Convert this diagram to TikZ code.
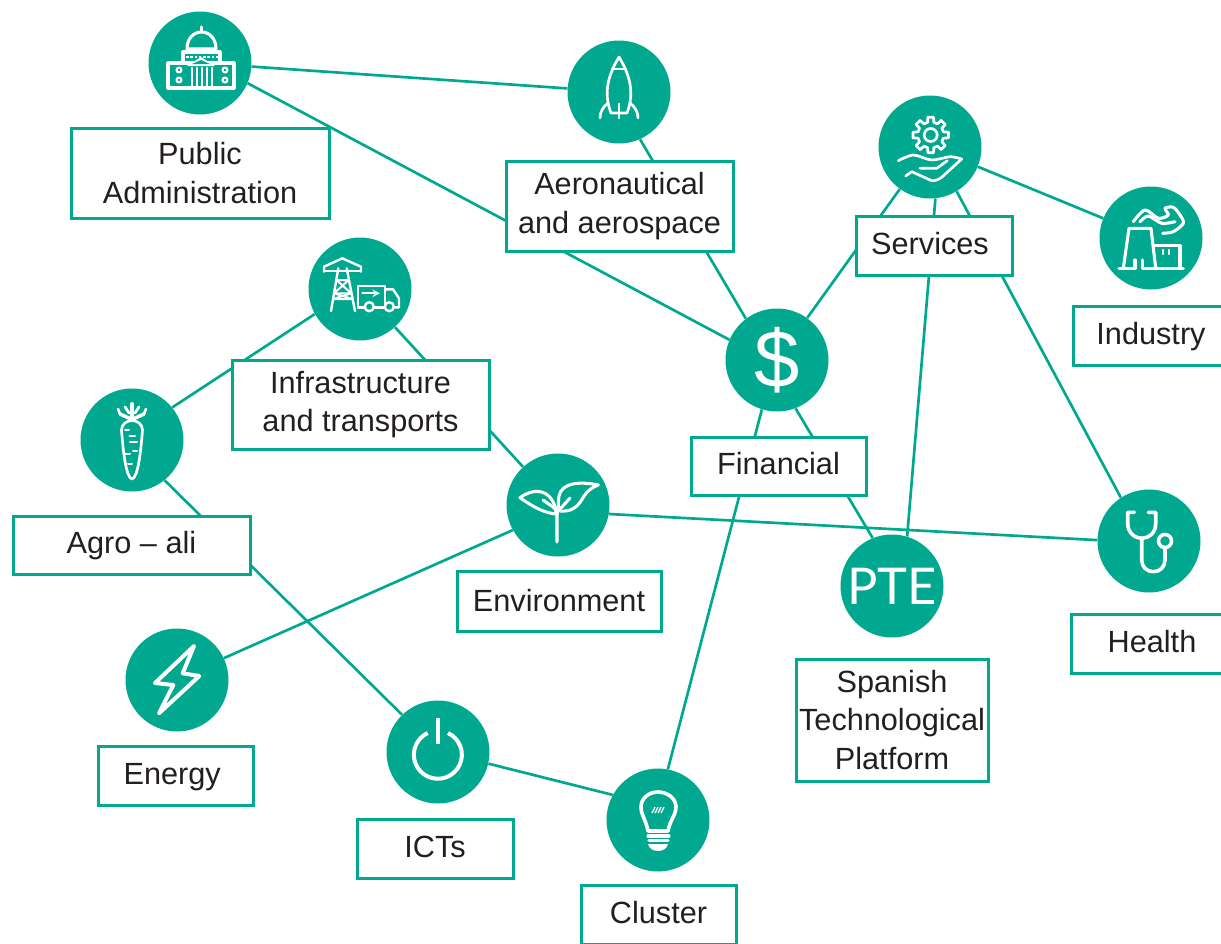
\documentclass[tikz,border=0pt]{standalone}
\usepackage{fontspec}
\usepackage{tikz}
\usetikzlibrary{backgrounds}
\setmainfont{Liberation Sans}
\newfontfamily\ptefont{Lato}
\definecolor{tealgreen}{RGB}{0,168,143}
\definecolor{labelgray}{RGB}{35,31,32}
\tikzset{
  sector/.style={circle,fill=tealgreen,inner sep=0pt,minimum size=77.25pt,text=white},
  labelbox/.style={draw=tealgreen,line width=2.25pt,fill=white,inner sep=0pt,align=center,
    text=labelgray,font=\fontsize{23}{29}\selectfont},
  oneline/.style={labelbox,text height=16.7pt,text depth=3.3pt},
  link/.style={draw=tealgreen,line width=2pt},
  icon/.style={draw=white,line width=2.3pt,line cap=round,line join=round},
}
\begin{document}
\begin{tikzpicture}[x=0.75pt,y=0.75pt,yscale=-1,xscale=1]
    \useasboundingbox (0,0) rectangle (1221,943);
    %Shape: Circle
    \node [sector] (pubc) at (200,63) {};
    \node [sector] (aerc) at (619,92) {};
    \node [sector] (srvc) at (930,147) {};
    \node [sector] (indc) at (1151,238) {};
    \node [sector] (infc) at (360,289) {};
    \node [sector,font=\fontsize{61}{64}\selectfont] (finc) at (777,360) {\$};
    \node [sector] (agrc) at (132,440) {};
    \node [sector] (envc) at (558,505) {};
    \node [sector] (heac) at (1149,541) {};
    \node [sector,font=\ptefont\fontsize{38}{40}\selectfont] (ptec) at (892,586) {PTE};
    \node [sector] (enec) at (177,680) {};
    \node [sector] (ictc) at (438,752) {};
    \node [sector] (cluc) at (658,820) {};

    % Text Node
    \node [labelbox,minimum width=193.5pt,minimum height=67.5pt] (publ) at (200,173) {Public\\Administration};
    \node [labelbox,minimum width=170.25pt,minimum height=67.5pt] (aerl) at (619.5,206) {Aeronautical\\and aerospace};
    \node [oneline,minimum width=117pt,minimum height=44.25pt] (srvl) at (934,245.5) {\hspace{-6pt}Services};
    \node [oneline,minimum width=117pt,minimum height=44.25pt] (indl) at (1151,335.5) {Industry};
    \node [labelbox,minimum width=192.75pt,minimum height=66.75pt] (infl) at (360.5,404.5) {Infrastructure\\and transports};
    \node [oneline,minimum width=131.25pt,minimum height=43.5pt] (finl) at (778.5,466) {Financial};
    \node [oneline,minimum width=177.75pt,minimum height=43.5pt] (agrl) at (131.5,545) {Agro -- ali};
    \node [oneline,text depth=1.3pt,minimum width=153pt,minimum height=45pt] (envl) at (559,601) {Environment};
    \node [oneline,minimum width=121.5pt,minimum height=44.25pt] (heal) at (1152,643.5) {Health};
    \node [labelbox,minimum width=144pt,minimum height=91.5pt] (ptel) at (892,720) {Spanish\\Technological\\Platform};
    \node [oneline,minimum width=116.25pt,minimum height=44.25pt] (enel) at (175.5,775.5) {\hspace{-5pt}Energy};
    \node [oneline,minimum width=117pt,minimum height=44.25pt] (ictl) at (435,848.5) {ICTs};
    \node [oneline,minimum width=116.25pt,minimum height=44.25pt] (clul) at (658.5,915) {Cluster};

    %Straight Lines
    \begin{scope}[on background layer]
    \draw [link] (pubc) -- (aerc);
    \draw [link] (pubc.-23) -- (finc.157);
    \draw [link] (aerc.-66.5) -- (finc.127);
    \draw [link] (srvc) -- (finc);
    \draw [link] (srvc) -- (indc);
    \draw [link] (srvc.-84) -- (ptec.73);
    \draw [link] (srvc.-59) -- (heac.123);
    \draw [link] (finc.-69) -- (ptec.112);
    \draw [link] (finc.253) -- (cluc.79);
    \draw [link] (infc.209.6) -- (agrc.39.5);
    \draw [link] (infc) -- (envc);
    \draw [link] (agrc.-51) -- (ictc.134);
    \draw [link] (envc.-10) -- (heac.179);
    \draw [link] (envc.209) -- (enec.25);
    \draw [link] (ictc.-13.5) -- (cluc.151);
    \end{scope}

    %Icon: capitol
    \begin{scope}[shift={(pubc)}]
    \draw [icon] (-32,0) rectangle (34,25);
    \fill [white] (-13,3) -- (1,-6) -- (15,3) -- cycle;
    \fill [tealgreen] (-8,1) -- (1,-3) -- (10,1) -- cycle;
    \foreach \x in {-8,-3,2,7,12} {\draw [icon,line width=1.6pt] (\x,5) -- (\x,25);}
    \draw [icon] (-17,0) -- (-17,-11) -- (20,-11) -- (20,0);
    \draw [draw=white,line width=2pt,dash pattern=on 2pt off 1.2pt] (-14,-6) -- (18,-6);
    \draw [icon] (-13,-14) .. controls (-13,-25) and (-6,-31) .. (1.5,-31) .. controls (9,-31) and (16,-25) .. (16,-14) -- cycle;
    \draw [icon] (1.5,-31) -- (1.5,-36);
    \foreach \x in {-21,25} {
      \draw [icon,line width=1.6pt] (\x,7) circle (2.5);
      \draw [icon,line width=1.6pt] (\x,17) circle (2.5);
    }
    \end{scope}

    %Icon: rocket
    \begin{scope}[shift={(aerc)}]
    \draw [icon,line width=2pt] (-8,21) .. controls (-14,5) and (-14,-12) .. (0,-35) .. controls (14,-12) and (14,5) .. (8,21) -- cycle;
    \draw [icon,line width=2pt] (-7,-23) -- (7,-23);
    \draw [icon,line width=2pt] (0,12) -- (0,26);
    \draw [icon,line width=2pt] (-11,11) .. controls (-16,15) and (-19,20) .. (-19,26);
    \draw [icon,line width=2pt] (11,11) .. controls (16,15) and (19,20) .. (19,26);
    \end{scope}

    %Icon: gear and hand
    \begin{scope}[shift={(srvc)}]
    \draw [icon,line width=2pt] (0.7,-12) circle (6.5);
    \foreach \a in {0,45,...,315} {
      \draw [icon,line width=2pt] ([shift={(0.7,-12)}]\a-9:18) -- ([shift={(0.7,-12)}]\a+9:18) -- ([shift={(0.7,-12)}]\a+14:13) -- ([shift={(0.7,-12)}]\a+31:13) -- ([shift={(0.7,-12)}]\a+36:18);
    }
    \draw [icon,line width=2pt] plot [smooth,tension=0.5] coordinates {(-31.7,13.7) (-16.7,8) (1.7,13) (20,9.7) (31.7,12)};
    \draw [icon,line width=2pt] (31.7,12) -- (11.7,30.3) .. controls (8,33) and (4,34) .. (1.7,33.7) -- (-18.3,24.7) -- (-24.3,29);
    \draw [icon,line width=2pt] (-10,21.3) -- (6.7,21.3) -- (17.3,13.7);
    \end{scope}

    %Icon: factory
    \begin{scope}[shift={(indc)}]
    \draw [icon] (-32,30.3) -- (-16,30.3) -- (-16,22);
    \draw [icon] (-8.7,22) -- (-8.7,30.3) -- (32.3,30.3);
    \draw [icon] (-27.7,30.3) -- (-22,-9.7) -- (0,-9.7) -- (4.7,30.3);
    \draw [icon] (2.7,7.7) -- (29,7.7) -- (29,30.3);
    \draw [icon,line width=1.6pt] (12.3,12) -- (12.3,16);
    \draw [icon,line width=1.6pt] (18.3,12) -- (18.3,16);
    \draw [icon] plot [smooth] coordinates {(-17.7,-16.3) (-6,-28) (7.3,-19.7) (17.3,-23) (14,-29.7) (22.3,-30.7) (29,-23) (32.3,-14.7) (22.3,-6.3) (11.7,-4.7)};
    \draw [icon] plot [smooth] coordinates {(-11,-16.3) (-2.7,-22) (10.7,-14.7) (24,-16.3)};
    \end{scope}

    %Icon: pylon and truck
    \begin{scope}[shift={(infc)}]
    \draw [icon,line width=1.8pt] (-36,-17.3) -- (-36,-22.3) -- (-17.7,-30.7) -- (1,-22.3) -- (1,-17.3);
    \draw [icon,line width=1.8pt] (-36,-18) -- (1,-18);
    \draw [icon,line width=1.8pt] (-21.7,-20.7) -- (-29,22);
    \draw [icon,line width=1.8pt] (-13.3,-20.7) -- (-5,22);
    \draw [icon,line width=1.5pt] (-23.7,-9) -- (-8.7,4.3) -- (-26,4.3) -- (-11.3,-9) -- cycle;
    \draw [icon,line width=1.5pt] (-26,4.3) -- (-7.5,10) -- (-27,10) -- (-8.7,4.3);
    \draw [icon,line width=1.8pt] (5,18.3) -- (-2.3,18.3) -- (-2.3,-3) -- (25,-3) -- (25,18.3) -- (14,18.3);
    \draw [icon,line width=1.5pt,->,>=stealth] (2.3,4.3) -- (20,4.3);
    \draw [icon,line width=1.8pt] (25,0.3) -- (33,0.3) -- (39,9.3) -- (39,18.3) -- (34,18.3);
    \draw [icon,line width=1.8pt] (9.3,17.7) circle (4.5) (29.3,17.7) circle (4.5);
    \end{scope}

    %Icon: carrot
    \begin{scope}[shift={(agrc)}]
    \draw [icon,line width=2pt] (0,39) .. controls (-6,38) and (-9,10) .. (-10.5,-10) .. controls (-10.5,-16) and (-5,-19.5) .. (0,-19.5) .. controls (5,-19.5) and (10.5,-16) .. (10.5,-10) .. controls (9,10) and (6,38) .. (0,39) -- cycle;
    \draw [icon,line width=3pt] (0,-21) -- (0,-36);
    \draw [icon,line width=2.6pt] (-1,-21) -- (-12,-26) (1,-21) -- (12,-26);
    \draw [icon,line width=2pt] (-3,-27) -- (-7,-33) (3,-27) -- (7,-33);
    \draw [icon,line width=2pt] (-12,-26) -- (-14,-31) (12,-26) -- (14,-31);
    \draw [icon,line width=1.5pt] (-7,-10) -- (-3,-10) (-2.5,-4) -- (3,-4) (-2,2) -- (5,2) (-7,14) -- (-2,14) (1,11) -- (5,11) (-4,24) -- (0,24);
    \end{scope}

    %Icon: sprout
    \begin{scope}[shift={(envc)}]
    \draw [icon] (-1,37) -- (-1,10) .. controls (-1,5) and (-3,4) .. (-5,2) -- (-15,-5);
    \draw [icon] (-1,10) .. controls (-1,5) and (2,4) .. (4,2) -- (12,-7);
    \draw [icon] (-38,-7.3) .. controls (-25,-17) and (-12,-15) .. (-6,-5) .. controls (-2,1) and (-2,6) .. (-2,9) .. controls (-12,8) and (-22,4) .. (-38,-7.3) -- cycle;
    \draw [icon] (40.3,-20) .. controls (20,-24) and (4,-22) .. (1,-9) .. controls (0,-2) and (0,4) .. (2,6) .. controls (14,7) and (20,2) .. (26,-9) .. controls (30,-15) and (35,-18) .. (40.3,-20) -- cycle;
    \end{scope}

    %Icon: stethoscope
    \begin{scope}[shift={(heac)}]
    \draw [icon,line width=2.7pt] (-14.7,-28.7) -- (-21.3,-28.7) -- (-21.3,-17.7) .. controls (-21.3,-8) and (-14,-2.7) .. (-7.3,-2.7) .. controls (0,-2.7) and (6.7,-8) .. (6.7,-17.7) -- (6.7,-28.7) -- (-0.7,-28.7);
    \draw [icon,line width=2.7pt] (-7.3,-2.7) -- (-7.3,19) .. controls (-7.3,26) and (-2,30.7) .. (4.3,30.7) .. controls (11,30.7) and (16,26) .. (16,19) -- (16,7);
    \draw [icon,line width=2.7pt] (16,0) circle (6.5);
    \end{scope}

    %Icon: lightning
    \begin{scope}[shift={(enec)}]
    \draw [icon,line width=3pt] (17,-34) -- (-22,3) -- (-3.7,5) -- (-18,33.3) -- (22.3,-4) -- (5.7,-6.7) -- cycle;
    \end{scope}

    %Icon: power button
    \begin{scope}[shift={(ictc)}]
    \draw [draw=white,line width=3.7pt] (0,-34) -- (0,-7.7);
    \draw [draw=white,line width=3pt] (10,-19) arc (-65:245:24);
    \end{scope}

    %Icon: bulb
    \begin{scope}[shift={(cluc)}]
    \draw [icon,line width=2.7pt] (-10,11) .. controls (-12,0) and (-17,-5) .. (-17,-13) .. controls (-17,-22) and (-9,-28) .. (0,-28) .. controls (9,-28) and (18,-22) .. (18,-13) .. controls (18,-5) and (12,0) .. (10,11) -- cycle;
    \draw [icon] (-10,16) -- (11,16);
    \draw [icon] (-9,20.5) -- (10,20.5);
    \fill [white] (-10,24) -- (10,24) .. controls (9,29) and (4,31) .. (0,31) .. controls (-4,31) and (-9,29) .. (-10,24) -- cycle;
    \foreach \x in {-6,-3,0,3} {\draw [draw=white,line width=1pt] (\x,-7) -- (\x+3,-13);}
    \end{scope}
\end{tikzpicture}
\end{document}
